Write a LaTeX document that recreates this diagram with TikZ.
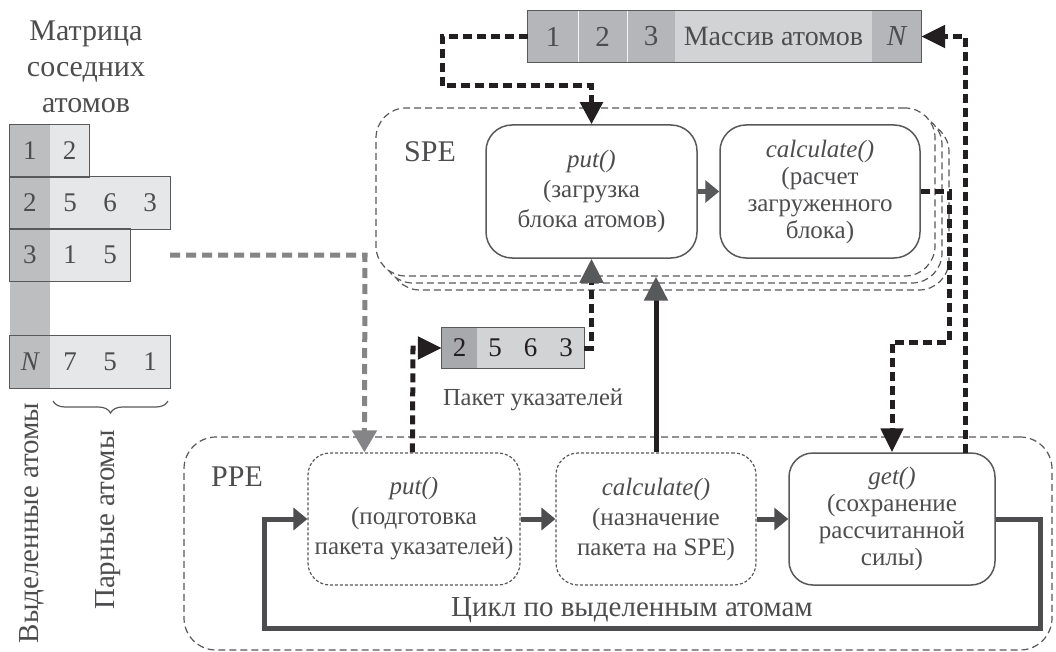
\documentclass[tikz,border=0pt]{standalone}
\usepackage{fontspec}
\setmainfont{Liberation Serif}
\usetikzlibrary{arrows.meta,decorations.pathreplacing,calc}
\definecolor{txt}{HTML}{4D4D4F}
\definecolor{edge}{HTML}{58595B}
\definecolor{blk}{HTML}{231F20}
\definecolor{dgray}{HTML}{4D4D4F}
\definecolor{mgray}{HTML}{858587}
\definecolor{cdark}{HTML}{BCBEC0}
\definecolor{clight}{HTML}{E6E7E8}
\definecolor{adark}{HTML}{B5B6B9}
\definecolor{alight}{HTML}{D1D3D4}
\definecolor{pdark}{HTML}{A7A9AC}
\newcommand\myfs[2]{\fontsize{#1}{#2}\selectfont}
\begin{document}
\begin{tikzpicture}[x=1pt,y=-1pt,
  cellst/.style={inner sep=0pt, minimum height=52, text=txt, font=\myfs{27}{30}},
  mdark/.style={cellst, fill=cdark, minimum width=40},
  mlight/.style={cellst, fill=clight, minimum width=40},
  acell/.style={inner sep=0pt, minimum height=51, text=txt, font=\myfs{29}{30}},
  pcell/.style={inner sep=0pt, minimum height=40, text=blk, font=\myfs{27}{30}},
  rowline/.style={draw=edge, line width=1.2},
  contst/.style={draw=edge, line width=1.2, dash pattern=on 7pt off 4pt, fill=white, inner sep=0pt},
  sbox/.style={draw=edge, line width=1.5, rounded corners=26, inner sep=0pt, align=center, text=txt},
  dbox/.style={draw=edge, line width=1.2, dash pattern=on 3pt off 2pt, rounded corners=22, inner sep=0pt, align=center, text=txt},
  lbl/.style={text=txt, inner sep=0pt},
  blkd/.style={draw=blk, line width=5, dash pattern=on 9pt off 5pt},
  blks/.style={draw=blk, line width=5},
  grayd/.style={draw=mgray, line width=5, dash pattern=on 10pt off 6pt},
  loopl/.style={draw=dgray, line width=5, line join=miter},
]
\useasboundingbox[fill=white] (0,0) rectangle (1056,652);

% ---------- matrix ----------
\node[lbl, align=center, font=\myfs{30}{36}] (mtitle) at (86,67) {Матрица\\соседних\\атомов};
\node[mdark] (m1a) at (30,151) {1};
\node[mlight,minimum width=39] (m1b) at (69.5,151) {2};
\node[mdark] (m2a) at (30,203) {2};
\node[mlight] (m2b) at (70,203) {5};
\node[mlight] (m2c) at (110,203) {6};
\node[mlight] (m2d) at (150,203) {3};
\node[mdark] (m3a) at (30,255) {3};
\node[mlight] (m3b) at (70,255) {1};
\node[mlight] (m3c) at (110,255) {5};
\node[mdark] (mNa) at (30,362) {\itshape N};
\node[mlight] (mNb) at (70,362) {7};
\node[mlight] (mNc) at (110,362) {5};
\node[mlight] (mNd) at (150,362) {1};
\fill[cdark] (m3a.south west) rectangle (mNa.north east);
\draw[rowline] (m1a.north west) rectangle (m1b.south east);
\draw[rowline] (m2a.north west) rectangle (m2d.south east);
\draw[rowline] (m3a.north west) rectangle (m3c.south east);
\draw[rowline] (mNa.north west) rectangle (mNd.south east);
\coordinate (brA) at (53,401);
\coordinate (brB) at (168,401);
\draw[draw=edge, line width=1.2, decorate,
      decoration={brace, amplitude=12pt, mirror}] (brA) -- (brB);
\node[lbl, rotate=90, font=\myfs{29}{32}] (sel) at (32,523) {Выделенные атомы};
\node[lbl, rotate=90, font=\myfs{29}{32}] (pair) at (108,520) {Парные атомы};

% ---------- atom array ----------
\node[acell, fill=adark, minimum width=50] (a1) at (553,36.5) {1};
\node[acell, fill=adark, minimum width=49] (a2) at (602.5,36.5) {2};
\node[acell, fill=adark, minimum width=48] (a3) at (651,36.5) {3};
\node[acell, fill=alight, minimum width=197, font=\myfs{28}{30}] (aM) at (773.5,36.5) {Массив атомов};
\node[acell, fill=adark, minimum width=49] (aN) at (896.5,36.5) {\itshape N};
\draw[draw=white!85!adark, line width=0.8] (a1.north east) -- (a1.south east) (a2.north east) -- (a2.south east);
\draw[rowline] (a1.north west) rectangle (aN.south east);

% ---------- SPE ----------
\node[contst, rounded corners=30, minimum width=559, minimum height=168] (spe3) at (669.5,206) {};
\node[contst, rounded corners=30, minimum width=559, minimum height=168] (spe2) at (662.5,199) {};
\node[contst, rounded corners=30, minimum width=559, minimum height=168] (spe1) at (655.5,192) {};
\node[lbl, font=\myfs{30}{30}] (spelbl) at (430,152) {SPE};
\node[sbox, minimum width=211, minimum height=133, font=\myfs{25}{30}] (sput) at (591.5,191.5)
  {\textit{put()}\\(загрузка\\блока атомов)};
\node[sbox, minimum width=200, minimum height=133, font=\myfs{25}{27}] (scalc) at (820,191.5)
  {\textit{calculate()}\\(расчет\\загруженного\\блока)};

% ---------- PPE ----------
\node[contst, fill=none, rounded corners=32, minimum width=868, minimum height=213] (ppe) at (618,543.5) {};
\node[lbl, font=\myfs{30}{30}] (ppelbl) at (237,477) {PPE};
\node[dbox, minimum width=212, minimum height=132, font=\myfs{25}{30}] (pput) at (414,519)
  {\textit{put()}\\(подготовка\\пакета указателей)};
\node[dbox, minimum width=200, minimum height=132, font=\myfs{25}{30}] (pcalc) at (656,519)
  {\textit{calculate()}\\(назначение\\пакета на SPE)};
\node[sbox, rounded corners=24, minimum width=206, minimum height=132, font=\myfs{25}{27}] (get) at (892,519)
  {\textit{get()}\\(сохранение\\рассчитанной\\силы)};
\node[lbl, font=\myfs{29}{30}] (looptxt) at (632,610) {Цикл по выделенным атомам};

% ---------- pointer packet ----------
\node[pcell, fill=pdark, minimum width=35] (p1) at (459.5,348) {2};
\node[pcell, fill=alight, minimum width=36] (p2) at (495,348) {5};
\node[pcell, fill=alight, minimum width=35] (p3) at (530.5,348) {6};
\node[pcell, fill=alight, minimum width=36] (p4) at (566,348) {3};
\draw[rowline] (p1.north west) rectangle (p4.south east);
\node[lbl, font=\myfs{24.5}{28}] (pklbl) at (533,400) {Пакет указателей};

% ---------- connectors ----------
\coordinate (gtop) at (965,453);
\coordinate (mstart) at (170,255);
\draw[blkd, -{Triangle[length=22pt,width=22pt]}] (a1.west) -- (442,36.5) -- (442,86) -- (591.5,86) -- (sput.north);
\draw[blkd, -{Triangle[length=24pt,width=22pt]}] (gtop) -- (965,36.5) -- (aN.east);
\draw[blkd, -{Triangle[length=24pt,width=22pt]}] (scalc.east) -- (949,191.5) -- (949,342) -- (892,342) -- (get.north);
\draw[grayd, -{Triangle[length=22pt,width=24pt,color=mgray]}] (mstart) -- (365,255) -- ($(pput.north west)+(57,0)$);
\draw[blkd, -{Triangle[length=24pt,width=22pt]}] ($(pput.north west)+(105,0)$) -- (413,348) -- (p1.west);
\draw[blkd, -{Triangle[length=24pt,width=23pt,color=edge]}] (p4.east) -- (591.5,348) -- (sput.south);
\draw[blks, -{Triangle[length=24pt,width=23pt,color=edge]}] (pcalc.north) -- (pcalc.north |- spe1.south);
\draw[draw=edge, line width=5, -{Triangle[length=14pt,width=22pt,color=edge]}] (sput.east) -- (scalc.west);
\draw[loopl, -{Triangle[length=14pt,width=22pt,color=dgray]}] (pput.east) -- (pcalc.west);
\draw[loopl, -{Triangle[length=14pt,width=22pt,color=dgray]}] (pcalc.east) -- (get.west);
\draw[loopl, -{Triangle[length=14pt,width=22pt,color=dgray]}] (get.east) -- (1040,519) -- (1040,628) -- (264,628) -- (264,519) -- (pput.west);
\end{tikzpicture}
\end{document}
